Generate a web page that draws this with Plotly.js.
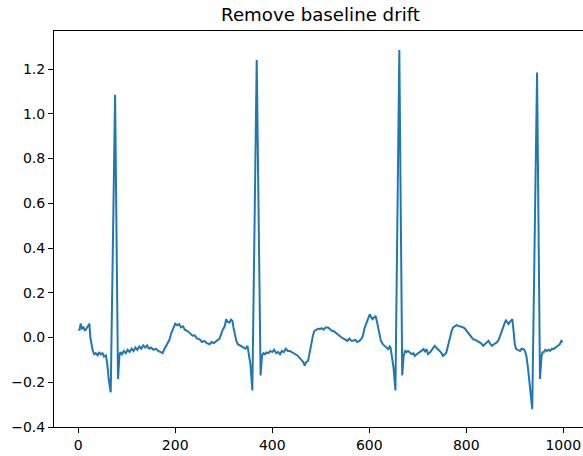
<!DOCTYPE html>
<html>
<head>
<meta charset="utf-8">
<script src="https://cdn.plot.ly/plotly-3.0.1.min.js"></script>
<style>
html, body { margin: 0; padding: 0; overflow: hidden; background: #fff; }
#chart { width: 588px; height: 456px; }
</style>
</head>
<body>
<div id="chart"></div>
<script>
// Sample index
const sampleIdx = [
  0,3,5,8,11,14,17,20,23,25,27,30,33,36,40,43,46,50,53,57,60,63,67,76,82,85,87,90,94,98,
  102,106,110,114,118,122,126,130,134,138,142,146,150,155,160,165,170,174,178,183,188,192,196,200,
  204,208,212,216,220,224,228,232,236,240,245,250,255,260,265,271,275,280,284,288,291,295,298,302,
  305,308,312,315,318,320,323,326,329,333,337,341,345,349,352,355,359,368,376,379,382,385,388,392,
  396,400,404,408,412,416,420,424,428,432,436,440,444,448,452,456,460,464,467,470,474,477,480,484,
  487,491,495,498,502,506,510,515,519,523,527,531,535,539,543,547,551,555,559,563,567,571,575,580,
  584,587,590,594,598,601,604,607,610,613,616,618,621,624,628,632,636,639,642,644,647,650,654,662,
  668,671,674,677,680,684,688,691,694,698,701,704,708,712,715,718,721,725,729,732,735,738,742,745,
  749,752,756,759,762,766,770,773,777,780,784,788,791,794,797,801,805,809,814,818,822,826,830,835,
  839,843,846,850,853,857,860,863,867,870,873,877,880,882,885,887,890,893,895,898,900,903,907,911,
  914,918,921,924,928,932,936,946,952,955,957,960,963,966,970,973,977,980,984,987,990,993,996,999
];
// Signal amplitude after baseline removal
const signalVals = [
  0.033,0.035,0.062,0.040,0.045,0.030,0.040,0.050,0.062,0.000,-0.030,-0.060,-0.075,-0.070,-0.080,-0.065,-0.075,-0.070,-0.085,-0.080,-0.120,-0.190,-0.245,1.085,-0.185,-0.080,-0.065,-0.075,-0.060,-0.070,
  -0.055,-0.065,-0.050,-0.060,-0.045,-0.055,-0.040,-0.050,-0.035,-0.045,-0.035,-0.050,-0.045,-0.055,-0.050,-0.060,-0.065,-0.070,-0.050,-0.030,-0.010,0.020,0.040,0.062,
  0.055,0.060,0.045,0.050,0.035,0.030,0.025,0.015,0.008,0.010,-0.005,-0.007,-0.020,-0.015,-0.025,-0.030,-0.020,-0.025,-0.015,-0.010,-0.007,0.020,0.035,0.050,
  0.082,0.070,0.067,0.080,0.074,0.045,0.010,-0.015,-0.030,-0.037,-0.040,-0.045,-0.050,-0.037,-0.080,-0.120,-0.237,1.240,-0.170,-0.080,-0.070,-0.075,-0.067,-0.070,
  -0.060,-0.065,-0.055,-0.070,-0.065,-0.075,-0.060,-0.065,-0.050,-0.060,-0.060,-0.065,-0.070,-0.072,-0.080,-0.090,-0.100,-0.110,-0.126,-0.110,-0.104,-0.070,-0.030,0.010,
  0.030,0.035,0.040,0.037,0.042,0.035,0.045,0.045,0.035,0.030,0.028,0.020,0.015,0.008,0.000,-0.005,-0.010,-0.015,-0.005,-0.015,-0.015,-0.010,-0.020,-0.015,
  -0.005,0.008,0.040,0.067,0.090,0.104,0.090,0.082,0.090,0.097,0.070,0.045,0.010,-0.015,-0.030,-0.037,-0.045,-0.052,-0.040,-0.045,-0.090,-0.134,-0.237,1.285,
  -0.170,-0.080,-0.060,-0.065,-0.060,-0.067,-0.075,-0.070,-0.082,-0.075,-0.070,-0.067,-0.060,-0.052,-0.065,-0.052,-0.074,-0.067,-0.055,-0.045,-0.037,-0.045,-0.052,-0.060,
  -0.070,-0.082,-0.075,-0.067,-0.040,0.000,0.030,0.045,0.050,0.055,0.052,0.050,0.048,0.045,0.040,0.030,0.020,0.010,-0.007,-0.010,-0.015,-0.020,-0.025,-0.037,
  -0.030,-0.020,-0.015,-0.030,-0.037,-0.030,-0.025,-0.022,-0.010,0.010,0.030,0.050,0.070,0.077,0.065,0.060,0.070,0.080,0.082,0.020,-0.030,-0.052,-0.055,-0.060,
  -0.050,-0.052,-0.060,-0.082,-0.150,-0.240,-0.320,1.185,-0.185,-0.090,-0.067,-0.065,-0.055,-0.060,-0.055,-0.060,-0.050,-0.052,-0.045,-0.040,-0.037,-0.030,-0.015,-0.020
];
const xTicks = [0, 200, 400, 600, 800, 1000];
const yTicks = [-0.4, -0.2, 0.0, 0.2, 0.4, 0.6, 0.8, 1.0, 1.2];
const yTickText = ['\u22120.4', '\u22120.2', '0.0', '0.2', '0.4', '0.6', '0.8', '1.0', '1.2'];

const trace = {
  x: sampleIdx,
  y: signalVals,
  type: 'scatter',
  mode: 'lines',
  line: { color: '#1f77b4', width: 2 },
  hoverinfo: 'skip'
};

const axisCommon = {
  showgrid: false,
  zeroline: false,
  showline: true,
  mirror: true,
  linecolor: '#000',
  linewidth: 1,
  ticks: 'outside',
  ticklen: 5,
  tickwidth: 1,
  tickcolor: '#000',
  tickfont: { family: 'DejaVu Sans', size: 14, color: '#000' }
};

const layout = {
  width: 588,
  height: 456,
  margin: { l: 54, r: 1, t: 31, b: 29, pad: 0 },
  paper_bgcolor: '#fff',
  plot_bgcolor: '#fff',
  showlegend: false,
  title: {
    text: 'Remove baseline drift',
    font: { family: 'DejaVu Sans', size: 18.2, color: '#000' },
    x: 0.5, xref: 'paper', xanchor: 'center',
    y: 1, yref: 'paper', yanchor: 'bottom',
    pad: { b: 10 }
  },
  xaxis: Object.assign({}, axisCommon, {
    range: [-49.95, 1048.95],
    tickmode: 'array',
    tickvals: xTicks,
    ticktext: xTicks.map(String)
  }),
  yaxis: Object.assign({}, axisCommon, {
    range: [-0.4, 1.37],
    tickmode: 'array',
    tickvals: yTicks,
    ticktext: yTickText
  })
};

Plotly.newPlot('chart', [trace], layout, { displayModeBar: false, staticPlot: true });
</script>
</body>
</html>
